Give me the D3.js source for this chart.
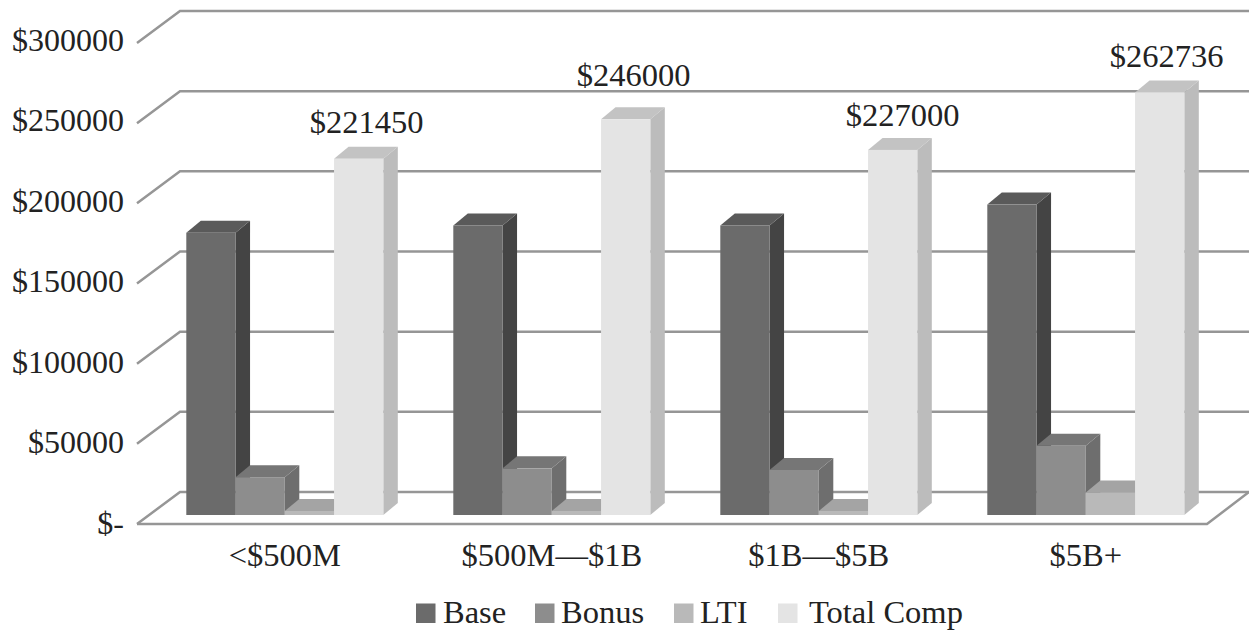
<!DOCTYPE html>
<html><head><meta charset="utf-8">
<script src="https://d3js.org/d3.v7.min.js"></script>
<style>html,body{margin:0;background:#fff}svg{display:block}text{font-family:"Liberation Serif",serif;fill:#222}</style>
</head><body><svg id="c" width="1249" height="630"></svg>
<script>
const categories = ["<$500M", "$500M—$1B", "$1B—$5B", "$5B+"];
const seriesNames = ["Base", "Bonus", "LTI", "Total Comp"];
const base = [175500, 180000, 180000, 193000];
const bonus = [23500, 29000, 28000, 43000];
const lti = [2500, 2500, 2500, 14000];
const totalComp = [221450, 246000, 227000, 262736];
const tickValues = [0, 50000, 100000, 150000, 200000, 250000, 300000];
const seriesValues = [base, bonus, lti, totalComp];
const palette = [
  {front:"#6b6b6b", side:"#444444", top:"#5a5a5a"},
  {front:"#8d8d8d", side:"#6e6e6e", top:"#767676"},
  {front:"#b9b9b9", side:"#a0a0a0", top:"#a4a4a4"},
  {front:"#e4e4e4", side:"#bcbcbc", top:"#c3c3c3"}
];
const svg = d3.select("#c");
const depth = {x:14.5, y:12};
const wall = {x:43, y:32};
const y = d3.scaleLinear().domain([0,300000]).range([515, 32.5]);
const wallY = d3.scaleLinear().domain([0,300000]).range([524, 43]);
const labelY = d3.scaleLinear().domain([0,300000]).range([533.5, 51]);
const x0 = d3.scaleBand().domain(categories).range([152.8, 1220.8]);
const x1 = d3.scaleBand().domain(seriesNames).range([33.5, 230.5]);

// gridlines + walls
const grid = svg.append("g").attr("fill","none").attr("stroke","#969696").attr("stroke-width",2.5);
tickValues.forEach(t=>{
  const yy = wallY(t);
  const pts = t===0
    ? [[137,yy],[1207,yy],[1207+wall.x-1,yy-wall.y]]
    : [[137,yy],[137+wall.x,yy-wall.y],[1249,yy-wall.y]];
  grid.append("path").attr("d",d3.line()(pts));
});
grid.append("path").attr("d",d3.line()([[137,524],[137+wall.x,524-wall.y],[1249,524-wall.y]]));

// bars
const bars = svg.append("g");
categories.forEach((c,i)=>{
  seriesNames.forEach((s,j)=>{
    const v = seriesValues[j][i];
    const xl = x0(c)+x1(s), xr = xl+x1.bandwidth(), yt = y(v), yb = y(0);
    const p = palette[j];
    bars.append("path").attr("fill",p.side).attr("d",d3.line()([[xr,yt],[xr+depth.x,yt-depth.y],[xr+depth.x,yb-depth.y],[xr,yb]])+"Z");
    bars.append("path").attr("fill",p.top).attr("d",d3.line()([[xl,yt],[xl+depth.x,yt-depth.y],[xr+depth.x,yt-depth.y],[xr,yt]])+"Z");
    bars.append("rect").attr("x",xl).attr("y",yt).attr("width",xr-xl).attr("height",yb-yt).attr("fill",p.front);
  });
});

// value labels
const labelDx = [8, 8, 10, 7];
const labelDy = [25.5, 33.5, 23.5, 25];
categories.forEach((c,i)=>{
  const s = seriesNames[3];
  svg.append("text").attr("x",x0(c)+x1(s)+x1.bandwidth()/2+labelDx[i])
    .attr("y",y(totalComp[i])-labelDy[i]).attr("text-anchor","middle").attr("font-size",32.5)
    .text("$"+totalComp[i]);
});

// y tick labels
tickValues.forEach(t=>{
  svg.append("text").attr("x",124).attr("y",labelY(t)).attr("text-anchor","end").attr("font-size",32)
    .text(t===0?"$-":"$"+t);
});

// category labels
categories.forEach(c=>{
  svg.append("text").attr("x",x0(c)+x0.bandwidth()/2-1.5).attr("y",566).attr("text-anchor","middle").attr("font-size",32.5).text(c);
});

// legend
const legendSwatchX = [416, 535, 674, 778];
const legendTextX = [443, 561, 700, 809];
seriesNames.forEach((s,j)=>{
  svg.append("rect").attr("x",legendSwatchX[j]).attr("y",603.5).attr("width",19.5).attr("height",19.5).attr("fill",palette[j].front);
  svg.append("text").attr("x",legendTextX[j]).attr("y",623).attr("font-size",32.5).text(s);
});
</script></body></html>
